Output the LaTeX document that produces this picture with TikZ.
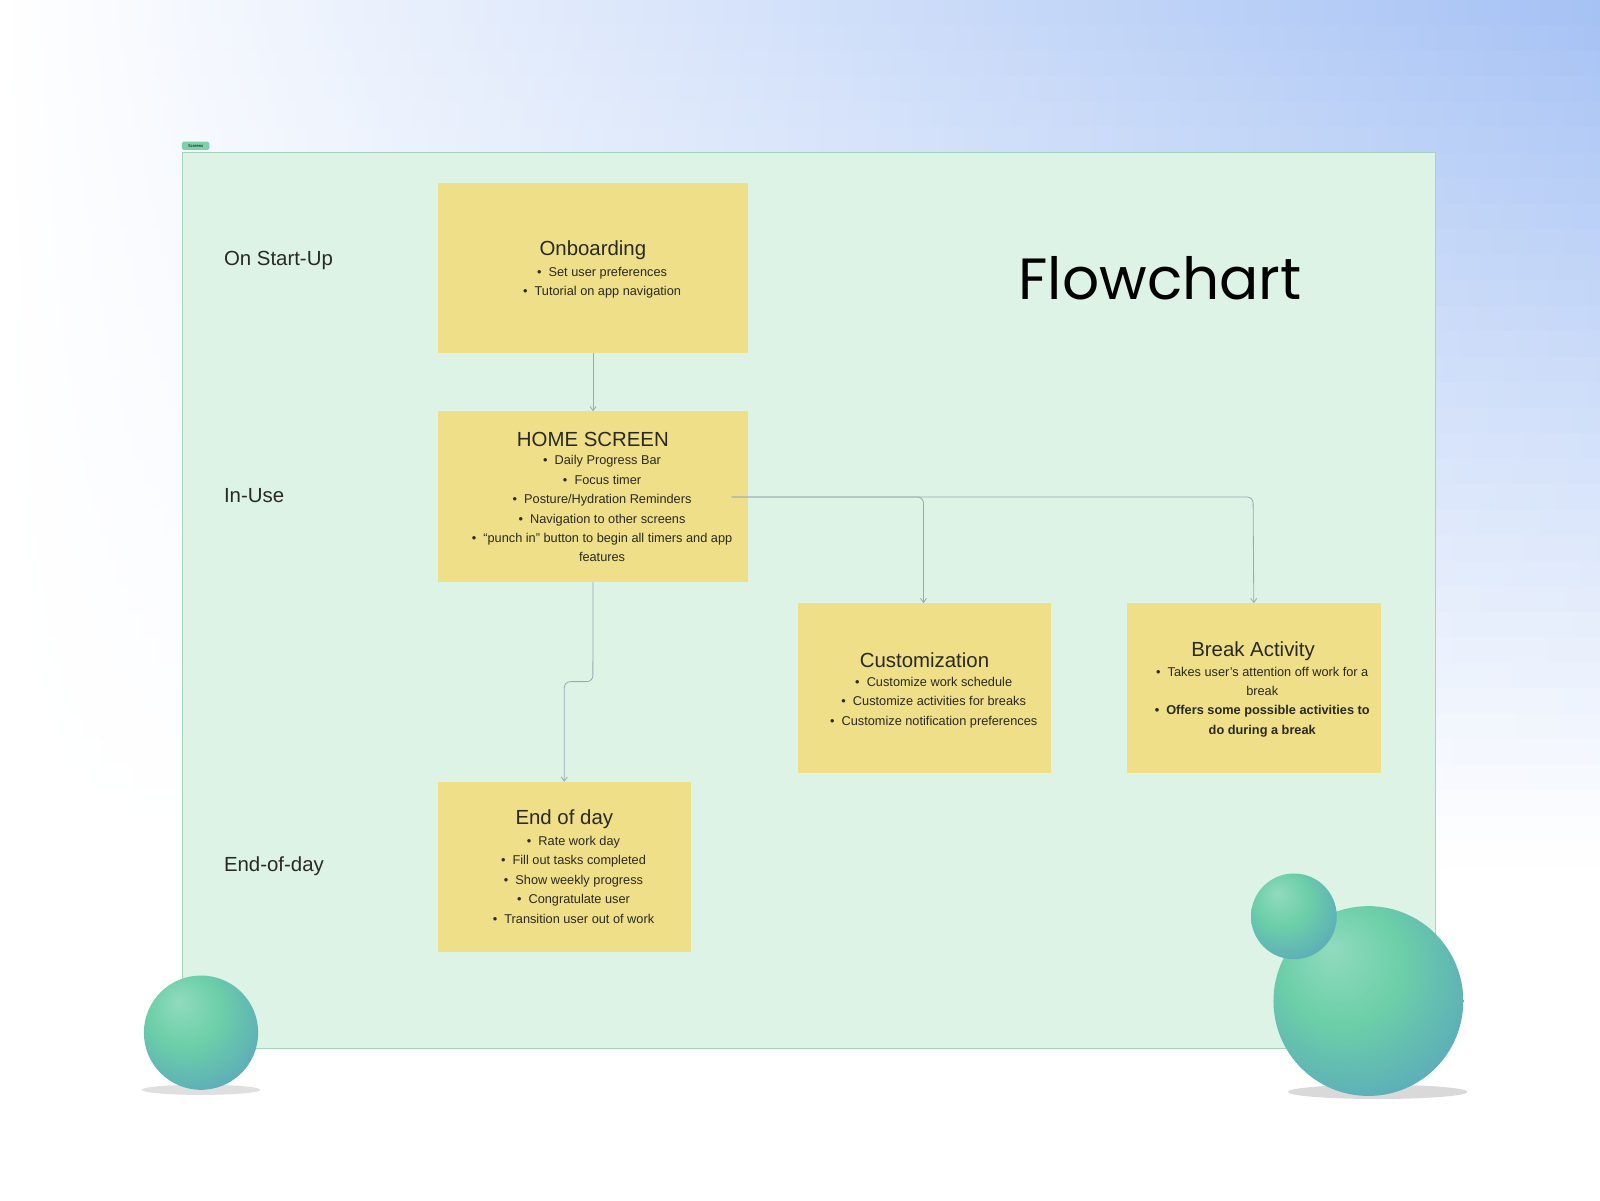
\documentclass[tikz,border=0pt]{standalone}
\usepackage{fontspec}
\setmainfont{Liberation Sans}
\newfontfamily\titlefont{Poppins}
\usetikzlibrary{arrows.meta}
\definecolor{board}{HTML}{DDF3E6}
\definecolor{boardline}{HTML}{A3D6BC}
\definecolor{tagc}{HTML}{7FCFAA}
\definecolor{note}{HTML}{EEDF88}
\definecolor{conn}{HTML}{9EA8B2}
\definecolor{txt}{HTML}{2A2A22}
\definecolor{skyA}{HTML}{A8D2D6}
\definecolor{skyB}{HTML}{C6D8F8}
\definecolor{skyC}{HTML}{A6C2F4}
\definecolor{ballA}{HTML}{6CCFA8}
\definecolor{ballB}{HTML}{4A86CC}
\pgfdeclareradialshading{myball}{\pgfpoint{-10bp}{14bp}}{color(0bp)=(ballA!75!white); color(16bp)=(ballA); color(36bp)=(ballA!45!ballB); color(55bp)=(ballB)}
\tikzset{
  notebox/.style={draw=none, fill=note, inner sep=0pt},
  ntitle/.style={font=\fontsize{20}{24}\selectfont, text=txt, anchor=center},
  nlist/.style={font=\fontsize{12.5}{19}\selectfont, text=txt, align=center, anchor=north},
  lane/.style={font=\fontsize{20}{24}\selectfont, text=txt, anchor=west},
  conn/.style={draw=conn, line width=0.8pt, rounded corners=6pt, -{Straight Barb[length=4pt,width=6pt]}},
  ball/.style={circle, inner sep=0pt, shading=myball}
}
\begin{document}
\begin{tikzpicture}[x=1pt,y=-1pt]
\useasboundingbox (0,0) rectangle (1568,1176);
% background
\fill[white] (0,0) rectangle (1568,1176);
\foreach \i in {0,...,39} {
  \pgfmathtruncatemacro{\p}{max(0,100-\i*3)}
  \shade[left color=white, middle color=skyA!\p!white, right color=skyC!\p!white, shading angle=90] (0,{\i*25}) rectangle (1568,{\i*25+26});
}
% board
\node[fill=tagc, rounded corners=1.5pt, inner sep=0pt, minimum width=27pt, minimum height=8pt, font=\fontsize{4}{5}\selectfont, anchor=south west] (tag) at (178,147) {Screens};
\node[draw=boardline, fill=board, line width=0.8pt, minimum width=1228pt, minimum height=878pt, anchor=north west, inner sep=0pt] (board) at (178,149) {};
% lanes
\node[lane] (l1) at (216,255) {On Start-Up};
\node[lane] (l2) at (216,486) {In-Use};
\node[lane] (l3) at (216,849) {End-of-day};
\node[font=\titlefont\fontsize{57}{64}\selectfont, text=black] (fc) at (1137,273) {Flowchart};
% boxes
\node[notebox, minimum width=304pt, minimum height=167pt, anchor=north west] (onb) at (429,179) {};
\node[notebox, minimum width=304pt, minimum height=167pt, anchor=north west] (home) at (429,403) {};
\node[notebox, minimum width=248pt, minimum height=166pt, anchor=north west] (cust) at (782,591) {};
\node[notebox, minimum width=249pt, minimum height=166pt, anchor=north west] (brk) at (1104,591) {};
\node[notebox, minimum width=248pt, minimum height=167pt, anchor=north west] (eod) at (429,766) {};
% texts
\node[ntitle] (t1) at (581,245) {Onboarding};
\node[nlist] (b1) at (590,258) {\textbullet\ \ Set user preferences\\\textbullet\ \ Tutorial on app navigation};
\node[ntitle] (t2) at (581,431) {HOME SCREEN};
\node[nlist] (b2) at (590,443) {\textbullet\ \ Daily Progress Bar\\\textbullet\ \ Focus timer\\\textbullet\ \ Posture/Hydration Reminders\\\textbullet\ \ Navigation to other screens\\\textbullet\ \ “punch in” button to begin all timers and app\\features};
\node[ntitle] (t3) at (906,647) {Customization};
\node[nlist] (b3) at (915,660) {\textbullet\ \ Customize work schedule\\\textbullet\ \ Customize activities for breaks\\\textbullet\ \ Customize notification preferences};
\node[ntitle] (t4) at (1228,638) {Break Activity};
\node[nlist] (b4) at (1237,650) {\textbullet\ \ Takes user’s attention off work for a\\break\\\textbf{\textbullet\ \ Offers some possible activities to}\\\textbf{do during a break}};
\node[ntitle] (t5) at (553,803) {End of day};
\node[nlist] (b5) at (562,816) {\textbullet\ \ Rate work day\\\textbullet\ \ Fill out tasks completed\\\textbullet\ \ Show weekly progress\\\textbullet\ \ Congratulate user\\\textbullet\ \ Transition user out of work};
% connectors
\coordinate (hs) at (717,487);
\draw[conn] (onb.south) -- (home.north);
\draw[conn] (hs) -- (1228,487) -- (brk.north);
\draw[conn] (hs) -- (905,487) -- (cust.north -| 905,0);
\draw[conn] (home.south) -- (581,668) -- (553,668) -- (eod.north -| 553,0);
% spheres
\fill[gray!25] (197,1068) ellipse (58 and 5);
\node[ball, minimum size=112pt] (s1) at (197,1012) {};
\fill[gray!30] (1350,1070) ellipse (88 and 7);
\node[ball, minimum size=186pt] (s2) at (1341,981) {};
\node[ball, minimum size=84pt] (s3) at (1268,898) {};
\end{tikzpicture}
\end{document}
